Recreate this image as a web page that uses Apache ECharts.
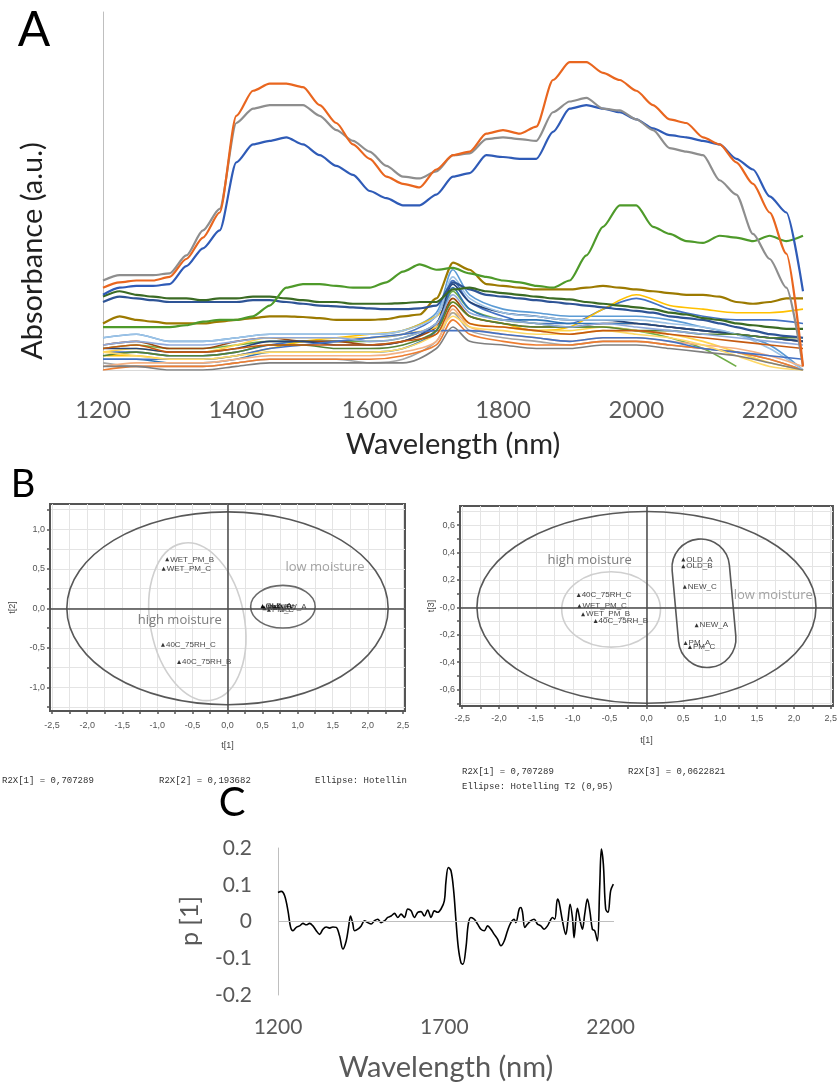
<!DOCTYPE html>
<html>
<head>
<meta charset="utf-8">
<script src="https://cdn.jsdelivr.net/npm/echarts@6/dist/echarts.min.js"></script>
<style>
html,body{margin:0;padding:0;background:#fff}
#chart{width:840px;height:1085px}
</style>
</head>
<body>
<div id="chart"></div>
<script>
var chart = echarts.init(document.getElementById('chart'));

// ---- panel A : NIR spectra ----
var wl = [1200,1225,1250,1275,1300,1325,1350,1375,1400,1425,1450,1475,1500,1525,1550,1575,1600,1625,1650,1675,1700,1725,1750,
          1775,1800,1825,1850,1875,1900,1925,1950,1975,2000,2025,2050,2075,2100,2125,2150,2175,2200,2225,2250];
var specOrange = [0.23,0.245,0.25,0.25,0.26,0.31,0.37,0.44,0.71,0.78,0.80,0.80,0.79,0.74,0.69,0.63,0.59,0.54,0.52,0.51,0.56,0.60,0.61,
                  0.66,0.67,0.66,0.68,0.81,0.86,0.86,0.83,0.81,0.78,0.74,0.70,0.69,0.65,0.63,0.58,0.52,0.44,0.325,0.01];
var specGray = [0.25,0.265,0.265,0.265,0.27,0.32,0.39,0.45,0.69,0.73,0.74,0.74,0.74,0.71,0.67,0.64,0.61,0.57,0.54,0.535,0.555,0.60,0.605,
                0.645,0.65,0.645,0.64,0.72,0.75,0.76,0.73,0.725,0.70,0.67,0.62,0.61,0.60,0.53,0.49,0.38,0.31,0.23,0.01];
var specBlue = [0.21,0.23,0.235,0.235,0.24,0.29,0.34,0.39,0.58,0.63,0.64,0.65,0.63,0.60,0.57,0.545,0.50,0.48,0.46,0.46,0.49,0.54,0.55,
                0.60,0.595,0.59,0.59,0.665,0.73,0.74,0.73,0.72,0.70,0.675,0.656,0.65,0.64,0.63,0.59,0.56,0.485,0.44,0.22];
var specGreen = [0.12,0.12,0.12,0.12,0.12,0.125,0.135,0.14,0.14,0.15,0.18,0.23,0.24,0.24,0.235,0.23,0.23,0.245,0.275,0.295,0.28,0.285,0.27,
                 0.26,0.25,0.245,0.235,0.23,0.25,0.32,0.40,0.46,0.46,0.40,0.38,0.36,0.355,0.375,0.37,0.36,0.375,0.36,0.375];
var specDkGreen = [0.205,0.22,0.21,0.205,0.20,0.20,0.195,0.20,0.20,0.205,0.205,0.20,0.195,0.19,0.19,0.185,0.185,0.185,0.187,0.19,0.19,0.225,0.23,
                   0.22,0.215,0.21,0.205,0.20,0.197,0.19,0.185,0.18,0.175,0.17,0.16,0.155,0.145,0.14,0.13,0.125,0.12,0.115,0.115];
var specDkBlue = [0.19,0.205,0.20,0.195,0.19,0.19,0.19,0.19,0.19,0.195,0.195,0.19,0.185,0.18,0.178,0.175,0.172,0.17,0.17,0.172,0.18,0.245,0.225,
                  0.21,0.205,0.20,0.195,0.19,0.185,0.18,0.175,0.17,0.165,0.16,0.15,0.145,0.14,0.13,0.12,0.11,0.10,0.095,0.09];
var specOlive = [0.13,0.15,0.14,0.135,0.13,0.13,0.13,0.135,0.14,0.145,0.15,0.15,0.148,0.145,0.14,0.14,0.14,0.142,0.15,0.155,0.20,0.30,0.28,
                 0.24,0.235,0.23,0.225,0.225,0.225,0.23,0.235,0.23,0.225,0.22,0.215,0.21,0.21,0.205,0.19,0.185,0.19,0.20,0.20];

// the crowded low-absorbance bundle, coarser sampling
var wlLow = [1200,1250,1300,1350,1400,1450,1500,1550,1600,1650,1700,1725,1750,1800,1850,1900,1950,2000,2050,2100,2150,2200,2250];
var low01 = [0.09,0.10,0.08,0.08,0.09,0.10,0.10,0.10,0.10,0.11, 0.16,0.28,0.21,0.17,0.16,0.15,0.15,0.15,0.14,0.12,0.10,0.07,0.00];
var low02 = [0.05,0.05,0.04,0.04,0.05,0.07,0.08,0.08,0.09,0.10, 0.15,0.25,0.19,0.15,0.13,0.13,0.17,0.20,0.17,0.15,0.14,0.14,0.13];
var low03 = [0.04,0.04,0.03,0.03,0.04,0.06,0.08,0.09,0.10,0.11, 0.15,0.19,0.15,0.13,0.11,0.12,0.17,0.21,0.18,0.17,0.16,0.16,0.17];
var low04 = [0.06,0.07,0.06,0.06,0.07,0.08,0.08,0.08,0.08,0.09, 0.13,0.22,0.17,0.14,0.13,0.12,0.12,0.11,0.09,0.06,0.01,null,null];
var low05 = [0.07,0.08,0.06,0.06,0.08,0.09,0.08,0.08,0.07,0.08, 0.12,0.20,0.15,0.13,0.12,0.12,0.13,0.13,0.12,0.11,0.10,0.09,0.08];
var low06 = [0.05,0.06,0.05,0.05,0.07,0.09,0.09,0.09,0.09,0.10, 0.12,0.16,0.13,0.12,0.11,0.11,0.12,0.11,0.10,0.08,0.05,0.02,0.00];
var low07 = [0.02,0.01,0.01,0.01,0.02,0.03,0.03,0.03,0.02,0.03, 0.08,0.16,0.11,0.09,0.08,0.07,0.08,0.08,0.07,0.06,0.05,0.03,0.00];
var low08 = [0.00,0.01,0.01,0.01,0.02,0.03,0.03,0.03,0.03,0.04, 0.07,0.14,0.10,0.08,0.07,0.07,0.08,0.08,0.07,0.06,0.05,0.03,0.00];
var low09 = [0.03,0.03,0.02,0.02,0.03,0.05,0.05,0.05,0.05,0.06, 0.11,0.23,0.17,0.14,0.14,0.13,0.13,0.13,0.12,0.11,0.10,0.09,0.08];
var low10 = [0.06,0.06,0.05,0.05,0.06,0.08,0.08,0.07,0.07,0.08, 0.13,0.24,0.19,0.16,0.15,0.14,0.14,0.13,0.12,0.11,0.10,0.09,0.08];
var low11 = [0.09,0.10,0.08,0.08,0.09,0.10,0.10,0.10,0.10,0.11, 0.15,0.26,0.20,0.16,0.15,0.14,0.14,0.14,0.13,0.12,0.10,0.06,0.00];
var low12 = [0.01,0.02,0.02,0.02,0.03,0.04,0.04,0.04,0.04,0.05, 0.08,0.17,0.12,0.10,0.09,0.08,0.09,0.09,0.08,0.07,0.06,0.04,0.01];
var low13 = [0.03,0.03,0.03,0.03,0.04,0.06,0.07,0.08,0.09,0.10, 0.11,0.11,0.11,0.10,0.09,0.08,0.09,0.09,0.08,0.06,0.05,0.04,0.03];
var low14 = [0.04,0.05,0.04,0.04,0.05,0.07,0.07,0.06,0.06,0.07, 0.11,0.19,0.15,0.13,0.12,0.12,0.12,0.11,0.11,0.10,0.10,0.09,0.09];
var low15 = [0.05,0.04,0.03,0.03,0.04,0.05,0.05,0.05,0.05,0.06, 0.10,0.15,0.12,0.11,0.10,0.10,0.11,0.10,0.09,0.07,0.04,0.01,0.00];
var low16 = [0.01,0.01,0.00,0.00,0.01,0.02,0.02,0.02,0.02,0.02, 0.06,0.12,0.08,0.07,0.06,0.06,0.07,0.07,0.06,0.05,0.04,0.02,0.00];
var low17 = [0.06,0.07,0.05,0.05,0.06,0.07,0.07,0.07,0.07,0.08, 0.10,0.18,0.13,0.12,0.11,0.10,0.11,0.11,0.10,0.09,0.08,0.07,0.06];
var low18 = [0.07,0.08,0.07,0.07,0.08,0.09,0.09,0.09,0.08,0.09, 0.13,0.21,0.16,0.14,0.13,0.12,0.13,0.12,0.11,0.10,0.09,0.08,0.07];
var lowSpectra = [low01,low02,low03,low04,low05,low06,low07,low08,low09,low10,low11,low12,low13,low14,low15,low16,low17,low18];
var lowColors = ['#5B9BD5','#4472C4','#FFC000','#70AD47','#9E480E','#FFD34D','#A5A5A5','#ED7D31','#2E75B6',
                 '#264478','#9DC3E6','#F4B183','#4472C4','#548235','#FFD966','#7F7F7F','#C55A11','#8FAADC'];

// ---- panel B : PCA scores ----
var sampleNames = ['WET_PM_B','WET_PM_C','40C_75RH_C','40C_75RH_B','OLD_A','OLD_B','NEW_C','NEW_A','PM_A','PM_C'];
var scoreT1 = [-0.86,-0.91,-0.92,-0.69,0.50,0.50,0.52,0.68,0.53,0.59];
var scoreT2 = [0.62,0.50,-0.46,-0.68,0.03,0.02,0.01,0.02,0.00,-0.02];
var scoreT3 = [-0.05,0.01,0.09,-0.10,0.35,0.30,0.15,-0.13,-0.26,-0.29];
// [centre t1, centre t, half width, half height, tilt]
var ellipsesT2 = [[0,0,2.29,1.22,0],[0.79,0.02,0.46,0.27,0],[-0.43,-0.17,0.67,1.01,0.19]];
var ellipsesT3 = [[0,0,2.30,0.70,0],[-0.48,-0.015,0.67,0.275,0]];
var groupT3 = [[0.78,0.03,0.78,0.94,0.09]];
var notesT2 = [[1.39,0.52,'low moisture'],[-0.68,-0.15,'high moisture']];
var notesT3 = [[-0.77,0.34,'high moisture'],[1.72,0.09,'low moisture']];
var bTickX = [-2.5,-2.25,-2,-1.75,-1.5,-1.25,-1,-0.75,-0.5,-0.25,0,0.25,0.5,0.75,1,1.25,1.5,1.75,2,2.25,2.5];
var bLabelX = [-2.5,-2,-1.5,-1,-0.5,0,0.5,1,1.5,2,2.5];
var bTickY2 = [-1.25,-1,-0.75,-0.5,-0.25,0,0.25,0.5,0.75,1,1.25];
var bLabelY2 = [-1,-0.5,0,0.5,1];
var bTickY3 = [-0.7,-0.6,-0.5,-0.4,-0.3,-0.2,-0.1,0,0.1,0.2,0.3,0.4,0.5,0.6,0.7];
var bLabelY3 = [-0.6,-0.4,-0.2,0,0.2,0.4,0.6];

// ---- panel C : loading p[1] ----
var pWl = [1200,1210,1220,1230,1238,1245,1255,1265,1275,1285,1295,1305,1315,1325,1335,1345,1355,1365,1375,1385,
           1395,1405,1412,1418,1425,1430,1440,1450,1460,1470,1480,1490,1500,1510,1520,1530,1540,1550,1560,1570,
           1580,1590,1600,1610,1620,1630,1640,1650,1660,1670,1680,1690,1700,1705,1712,1720,1728,1735,1742,1750,
           1756,1765,1772,1780,1790,1800,1810,1820,1830,1840,1850,1860,1870,1880,1890,1900,1910,1915,1925,1930,
           1935,1942,1950,1960,1970,1980,1990,2000,2010,2018,2025,2032,2040,2045,2055,2065,2072,2078,2085,2090,
           2095,2100,2108,2115,2122,2130,2138,2145,2152,2160,2167,2172,2178,2185,2192,2200,2208];
var pLoad = [0.079,0.082,0.07,0.029,-0.016,-0.025,-0.016,-0.012,-0.005,-0.009,-0.005,-0.012,-0.025,-0.035,-0.021,-0.015,-0.018,-0.015,-0.016,-0.039,
             -0.075,-0.053,-0.016,0.015,-0.007,-0.025,-0.021,-0.012,0.002,-0.003,-0.007,0.002,0.006,-0.003,0.002,0.011,0.015,0.022,0.011,0.02,
             0.011,0.034,0.029,0.011,0.025,0.027,0.015,0.031,0.011,0.029,0.025,0.034,0.056,0.11,0.147,0.138,0.084,0.002,-0.071,-0.112,
             -0.116,-0.071,-0.007,0.011,0.006,-0.007,-0.021,-0.025,-0.012,-0.021,-0.035,-0.048,-0.066,-0.053,-0.025,-0.003,0.006,-0.003,0.034,0.038,
             0.025,-0.016,-0.007,0.002,0.006,-0.007,-0.012,-0.021,-0.012,0.002,0.011,0.006,0.061,0.052,0.002,-0.035,0.006,0.047,0.011,-0.044,
             0.002,0.036,0.002,-0.021,0.02,0.061,0.025,-0.021,-0.025,-0.053,0.093,0.197,0.156,0.034,0.025,0.084,0.102];

function pairs(xs, ys){
    var out = [];
    for(var i=0; i<xs.length; i++){
        out.push([xs[i], ys[i]]);
    }
    return out;
}

function commaFmt(negZero){
    return function(v){
        var s = Math.abs(v).toFixed(1).replace('.', ',');
        if(v < -1e-9 || (negZero && Math.abs(v) < 1e-9)) return '-' + s;
        return s;
    };
}

function drawEllipse(params, api){
    var c = api.coord([api.value(0), api.value(1)]);
    var s = api.size([api.value(2), api.value(3)], [api.value(0), api.value(1)]);
    return {
        type: 'ellipse',
        x: c[0], y: c[1],
        rotation: api.value(4),
        shape: {cx: 0, cy: 0, rx: s[0], ry: s[1]},
        style: {fill: 'none', stroke: api.visual('color'), lineWidth: 1.6}
    };
}

function drawStadium(params, api){
    var c = api.coord([api.value(0), api.value(1)]);
    var s = api.size([api.value(2), api.value(3)], [api.value(0), api.value(1)]);
    return {
        type: 'rect',
        x: c[0], y: c[1],
        rotation: api.value(4),
        shape: {x: -s[0]/2, y: -s[1]/2, width: s[0], height: s[1], r: s[0]/2},
        style: {fill: 'none', stroke: api.visual('color'), lineWidth: 1.6}
    };
}

var series = [];

// A
for(var k=0; k<lowSpectra.length; k++){
    series.push({
        type: 'line', xAxisIndex: 0, yAxisIndex: 0,
        data: pairs(wlLow, lowSpectra[k]),
        showSymbol: false, smooth: 0.3, silent: true,
        lineStyle: {color: lowColors[k], width: 1.6},
        itemStyle: {color: lowColors[k]}
    });
}
var mainSpectra = [specOlive, specDkBlue, specDkGreen, specGreen, specBlue, specGray, specOrange];
var mainColors = ['#9C7A00','#2E5496','#3B6B24','#4E9A2A','#2F5BB7','#8E8E8E','#E9661F'];
for(var m=0; m<mainSpectra.length; m++){
    series.push({
        type: 'line', xAxisIndex: 0, yAxisIndex: 0,
        data: pairs(wl, mainSpectra[m]),
        showSymbol: false, smooth: 0.25, smoothMonotone: 'x', silent: true,
        lineStyle: {color: mainColors[m], width: 2.2},
        itemStyle: {color: mainColors[m]}
    });
}

// B helpers
function scoreData(ys){
    var out = [];
    for(var i=0; i<sampleNames.length; i++){
        out.push([scoreT1[i], ys[i], sampleNames[i]]);
    }
    return out;
}
var zeroLines = {
    silent: true, symbol: ['none','none'],
    label: {show: false},
    lineStyle: {color: '#4a4a4a', width: 1.5, type: 'solid'},
    data: [{xAxis: 0}, {yAxis: 0}]
};
var ptLabel = {
    show: true, position: 'right', distance: 1,
    formatter: function(p){ return p.data[2]; },
    fontSize: 8, fontFamily: 'Liberation Sans', color: '#111'
};
var noteLabel = {
    show: true, position: 'inside',
    formatter: function(p){ return p.data[2]; },
    fontSize: 13, fontFamily: 'Open Sans'
};

series.push({
    type: 'custom', xAxisIndex: 1, yAxisIndex: 1, renderItem: drawEllipse, silent: true,
    data: [
        {value: ellipsesT2[0], itemStyle: {color: '#585858'}},
        {value: ellipsesT2[1], itemStyle: {color: '#6a6a6a'}},
        {value: ellipsesT2[2], itemStyle: {color: '#cfcfcf'}}
    ]
});
series.push({
    type: 'scatter', xAxisIndex: 1, yAxisIndex: 1, silent: true,
    symbol: 'triangle', symbolSize: 4, itemStyle: {color: '#000'},
    data: scoreData(scoreT2), label: ptLabel, markLine: zeroLines
});
series.push({
    type: 'scatter', xAxisIndex: 1, yAxisIndex: 1, silent: true, symbolSize: 0,
    data: [notesT2[0]], label: echarts.util.merge({color: '#8c8c8c'}, noteLabel)
});
series.push({
    type: 'scatter', xAxisIndex: 1, yAxisIndex: 1, silent: true, symbolSize: 0,
    data: [notesT2[1]], label: echarts.util.merge({color: '#5a5a5a'}, noteLabel)
});

series.push({
    type: 'custom', xAxisIndex: 2, yAxisIndex: 2, renderItem: drawEllipse, silent: true,
    data: [
        {value: ellipsesT3[0], itemStyle: {color: '#585858'}},
        {value: ellipsesT3[1], itemStyle: {color: '#cfcfcf'}}
    ]
});
series.push({
    type: 'custom', xAxisIndex: 2, yAxisIndex: 2, renderItem: drawStadium, silent: true,
    data: [{value: groupT3[0], itemStyle: {color: '#585858'}}]
});
series.push({
    type: 'scatter', xAxisIndex: 2, yAxisIndex: 2, silent: true,
    symbol: 'triangle', symbolSize: 4, itemStyle: {color: '#000'},
    data: scoreData(scoreT3), label: ptLabel, markLine: zeroLines
});
series.push({
    type: 'scatter', xAxisIndex: 2, yAxisIndex: 2, silent: true, symbolSize: 0,
    data: [notesT3[0]], label: echarts.util.merge({color: '#5a5a5a'}, noteLabel)
});
series.push({
    type: 'scatter', xAxisIndex: 2, yAxisIndex: 2, silent: true, symbolSize: 0,
    data: [notesT3[1]], label: echarts.util.merge({color: '#8c8c8c'}, noteLabel)
});

// C
series.push({
    type: 'line', xAxisIndex: 3, yAxisIndex: 3,
    data: pairs(pWl, pLoad), showSymbol: false, smooth: 0.35, silent: true,
    lineStyle: {color: '#000', width: 1.6},
    markLine: {
        silent: true, symbol: ['none','none'], label: {show: false},
        lineStyle: {color: '#BFBFBF', width: 1, type: 'solid'},
        data: [{yAxis: 0}]
    }
});

function bAxisX(grid, gap){
    return {
        type: 'value', gridIndex: grid, min: -2.53, max: 2.53,
        name: 't[1]', nameLocation: 'middle', nameGap: gap,
        nameTextStyle: {fontSize: 9, fontFamily: 'Liberation Sans', color: '#444'},
        axisLine: {show: true, onZero: false, lineStyle: {color: '#555', width: 2}},
        axisTick: {show: true, length: 3, customValues: bTickX, lineStyle: {color: '#555', width: 1.5}},
        axisLabel: {customValues: bLabelX, formatter: commaFmt(false), fontSize: 9,
                    fontFamily: 'Liberation Sans', color: '#555', margin: grid === 1 ? 10 : 8},
        splitLine: {show: true, lineStyle: {color: '#e4e4e4', width: 1}}
    };
}

var option = {
    animation: false,
    textStyle: {fontFamily: 'Lato'},
    grid: [
        {left: 103, top: 12, width: 700, height: 358},
        {left: 50, top: 504, width: 355, height: 207, show: true, borderColor: '#555', borderWidth: 2},
        {left: 460, top: 506, width: 375, height: 200, show: true, borderColor: '#555', borderWidth: 2},
        {left: 278, top: 848, width: 336, height: 147}
    ],
    xAxis: [
        {
            type: 'value', gridIndex: 0, min: 1200, max: 2250, interval: 200,
            name: 'Wavelength (nm)', nameLocation: 'middle', nameGap: 60,
            nameTextStyle: {fontSize: 29, fontFamily: 'Lato', color: '#262626'},
            axisLine: {show: true, lineStyle: {color: '#D9D9D9', width: 1}},
            axisTick: {show: false},
            axisLabel: {fontSize: 24, fontFamily: 'Lato', color: '#595959', margin: 28, showMaxLabel: false,
                        formatter: function(v){ return String(v); }},
            splitLine: {show: false}
        },
        bAxisX(1, 30),
        bAxisX(2, 30),
        {
            type: 'value', gridIndex: 3, min: 1200, max: 2210, interval: 500,
            name: 'Wavelength (nm)', nameLocation: 'middle', nameGap: 58,
            nameTextStyle: {fontSize: 29, fontFamily: 'Lato', color: '#595959'},
            axisLine: {show: false}, axisTick: {show: false},
            axisLabel: {fontSize: 21, fontFamily: 'Lato', color: '#595959', margin: 22, showMaxLabel: false,
                        formatter: function(v){ return String(v); }},
            splitLine: {show: false}
        }
    ],
    yAxis: [
        {
            type: 'value', gridIndex: 0, min: 0, max: 1,
            axisLine: {show: true, lineStyle: {color: '#BFBFBF', width: 1}},
            axisTick: {show: false}, axisLabel: {show: false}, splitLine: {show: false}
        },
        {
            type: 'value', gridIndex: 1, min: -1.30, max: 1.32,
            name: 't[2]', nameLocation: 'middle', nameGap: 33, nameRotate: 90,
            nameTextStyle: {fontSize: 9, fontFamily: 'Liberation Sans', color: '#444'},
            axisLine: {show: true, onZero: false, lineStyle: {color: '#555', width: 2}},
            axisTick: {show: true, length: 3, customValues: bTickY2, lineStyle: {color: '#555', width: 1.5}},
            axisLabel: {customValues: bLabelY2, formatter: commaFmt(false), fontSize: 9,
                        fontFamily: 'Liberation Sans', color: '#555', margin: 5},
            splitLine: {show: true, lineStyle: {color: '#e4e4e4', width: 1}}
        },
        {
            type: 'value', gridIndex: 2, min: -0.72, max: 0.74,
            name: 't[3]', nameLocation: 'middle', nameGap: 24, nameRotate: 90,
            nameTextStyle: {fontSize: 9, fontFamily: 'Liberation Sans', color: '#444'},
            axisLine: {show: true, onZero: false, lineStyle: {color: '#555', width: 2}},
            axisTick: {show: true, length: 3, customValues: bTickY3, lineStyle: {color: '#555', width: 1.5}},
            axisLabel: {customValues: bLabelY3, formatter: commaFmt(true), fontSize: 9,
                        fontFamily: 'Liberation Sans', color: '#555', margin: 5},
            splitLine: {show: true, lineStyle: {color: '#e4e4e4', width: 1}}
        },
        {
            type: 'value', gridIndex: 3, min: -0.2, max: 0.2, interval: 0.1,
            axisLine: {show: true, lineStyle: {color: '#BFBFBF', width: 1}},
            axisTick: {show: false},
            axisLabel: {fontSize: 21, fontFamily: 'Lato', color: '#595959', margin: 26,
                        formatter: function(v){ return Math.abs(v) < 1e-9 ? '0' : v.toFixed(1); }},
            splitLine: {show: false}
        }
    ],
    graphic: [
        {type: 'text', x: 34, y: 31, style: {text: 'A', fontSize: 48, fontFamily: 'Lato', fill: '#000', align: 'center', verticalAlign: 'middle'}},
        {type: 'text', x: 23, y: 485, style: {text: 'B', fontSize: 38, fontFamily: 'Lato', fill: '#000', align: 'center', verticalAlign: 'middle'}},
        {type: 'text', x: 232, y: 803, style: {text: 'C', fontSize: 40, fontFamily: 'Lato', fill: '#000', align: 'center', verticalAlign: 'middle'}},
        {type: 'text', x: 33, y: 251, rotation: Math.PI / 2,
         style: {text: 'Absorbance (a.u.)', fontSize: 29, fontFamily: 'Lato', fill: '#1f1f1f', align: 'center', verticalAlign: 'middle'}},
        {type: 'text', x: 190, y: 921, rotation: Math.PI / 2,
         style: {text: 'p [1]', fontSize: 25, fontFamily: 'Lato', fill: '#595959', align: 'center', verticalAlign: 'middle'}},
        {type: 'text', x: 2, y: 781, style: {text: 'R2X[1] = 0,707289', fontSize: 9, fontFamily: 'Liberation Mono', fill: '#333', verticalAlign: 'middle'}},
        {type: 'text', x: 159, y: 781, style: {text: 'R2X[2] = 0,193682', fontSize: 9, fontFamily: 'Liberation Mono', fill: '#333', verticalAlign: 'middle'}},
        {type: 'text', x: 315, y: 781, style: {text: 'Ellipse: Hotellin', fontSize: 9, fontFamily: 'Liberation Mono', fill: '#333', verticalAlign: 'middle'}},
        {type: 'text', x: 462, y: 772, style: {text: 'R2X[1] = 0,707289', fontSize: 9, fontFamily: 'Liberation Mono', fill: '#333', verticalAlign: 'middle'}},
        {type: 'text', x: 628, y: 772, style: {text: 'R2X[3] = 0,0622821', fontSize: 9, fontFamily: 'Liberation Mono', fill: '#333', verticalAlign: 'middle'}},
        {type: 'text', x: 462, y: 787, style: {text: 'Ellipse: Hotelling T2 (0,95)', fontSize: 9, fontFamily: 'Liberation Mono', fill: '#333', verticalAlign: 'middle'}}
    ],
    series: series
};

chart.setOption(option);
</script>
</body>
</html>
